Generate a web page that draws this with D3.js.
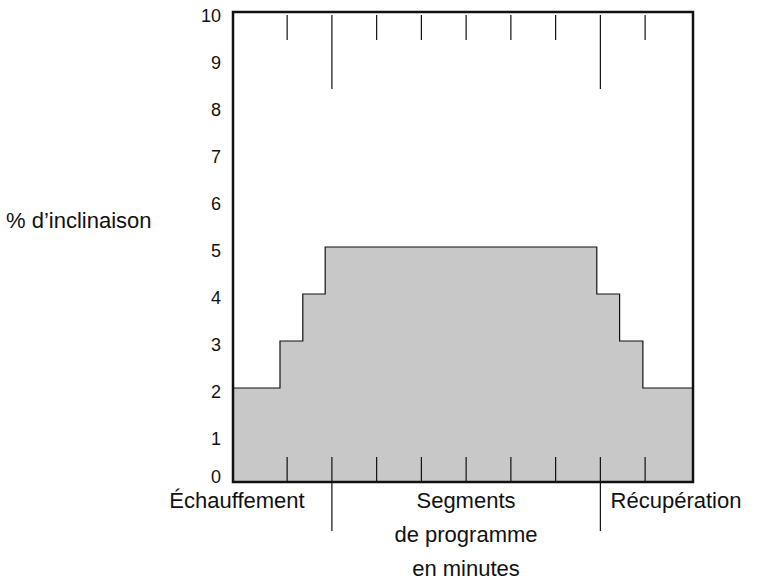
<!DOCTYPE html>
<html>
<head>
<meta charset="utf-8">
<script src="https://cdn.jsdelivr.net/npm/d3@7"></script>
<style>
  body { margin: 0; background: #fff; }
  text { font-family: "Liberation Sans", Arial, sans-serif; fill: #111; }
</style>
</head>
<body>
<div id="chart"></div>
<script>
// step profile: [start minute, incline %]
var stepStarts = [-0.21, 0.84, 1.35, 1.85, 7.92, 8.43, 8.95];
var stepLevels = [2, 3, 4, 5, 4, 3, 2];
var xEnd = 10.07;
var minuteTicks = [1, 2, 3, 4, 5, 6, 7, 8, 9];
var longTicks = [2, 8];
var yTicks = [0, 1, 2, 3, 4, 5, 6, 7, 8, 9, 10];

var svgWidth = 768, svgHeight = 587;
var margin = { top: 12, right: 75, bottom: 105, left: 233 };
var width = svgWidth - margin.left - margin.right;
var height = svgHeight - margin.top - margin.bottom;

var svg = d3.select("#chart").append("svg")
  .attr("width", svgWidth).attr("height", svgHeight);
var g = svg.append("g").attr("transform", `translate(${margin.left},${margin.top})`);

var x = d3.scaleLinear().domain([stepStarts[0], xEnd]).range([0, width]);
var y = d3.scaleLinear().domain([0, 10]).range([height, 0]);

var pts = stepStarts.map((s, i) => ({ x: s, y: stepLevels[i] }));
pts.push({ x: xEnd, y: stepLevels[stepLevels.length - 1] });

var area = d3.area().curve(d3.curveStepAfter)
  .x(d => x(d.x)).y0(y(0)).y1(d => y(d.y));
g.append("path").datum(pts).attr("d", area).attr("fill", "#c8c8c8");
var line = d3.line().curve(d3.curveStepAfter).x(d => x(d.x)).y(d => y(d.y));
g.append("path").datum(pts).attr("d", line)
  .attr("fill", "none").attr("stroke", "#111").attr("stroke-width", 1.2);

// ticks inside top and bottom
minuteTicks.forEach(function(t) {
  var isLong = longTicks.includes(t);
  g.append("line").attr("x1", x(t)).attr("x2", x(t))
    .attr("y1", 3).attr("y2", isLong ? 77 : 28)
    .attr("stroke", "#111").attr("stroke-width", 1.2);
  g.append("line").attr("x1", x(t)).attr("x2", x(t))
    .attr("y1", height - 25).attr("y2", isLong ? height + 49 : height)
    .attr("stroke", "#111").attr("stroke-width", 1.2);
});

// frame
g.append("rect").attr("width", width).attr("height", height)
  .attr("fill", "none").attr("stroke", "#111").attr("stroke-width", 2.5);

// y labels
g.selectAll(".yl").data(yTicks).enter().append("text")
  .attr("x", -12).attr("y", d => d === 0 ? y(d) - 5 : y(d) + 4).attr("dy", "0.35em")
  .attr("text-anchor", "end").attr("font-size", 18).text(d => d);

svg.append("text").attr("x", 6).attr("y", 220).attr("dy", "0.35em")
  .attr("font-size", 22).text("% d’inclinaison");

svg.append("text").attr("x", 237).attr("y", 508).attr("text-anchor", "middle")
  .attr("font-size", 22).text("Échauffement");
svg.append("text").attr("x", 676).attr("y", 508).attr("text-anchor", "middle")
  .attr("font-size", 22).text("Récupération");
["Segments", "de programme", "en minutes"].forEach(function(t, i) {
  svg.append("text").attr("x", 466).attr("y", 508 + i * 34).attr("text-anchor", "middle")
    .attr("font-size", 22).text(t);
});
</script>
</body>
</html>
